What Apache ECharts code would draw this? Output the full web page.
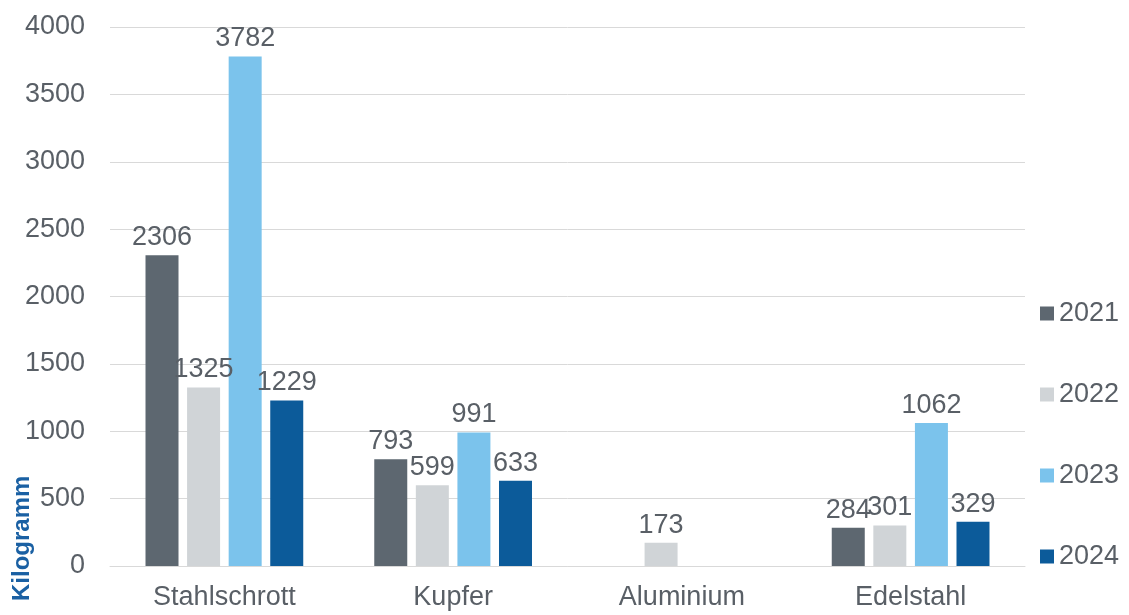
<!DOCTYPE html>
<html>
<head>
<meta charset="utf-8">
<script src="https://cdn.jsdelivr.net/npm/echarts@6/dist/echarts.min.js"></script>
<style>
  html, body { margin: 0; padding: 0; background: #ffffff; }
  #chart { width: 1129px; height: 615px; }
</style>
</head>
<body>
<div id="chart"></div>
<script>
// Metal scrap quantities per material and year (kg)
const categories = ['Stahlschrott', 'Kupfer', 'Aluminium', 'Edelstahl'];
const years = ['2021', '2022', '2023', '2024'];
const values2021 = [2306, 793, null, 284];
const values2022 = [1325, 599, 173, 301];
const values2023 = [3782, 991, null, 1062];
const values2024 = [1229, 633, null, 329];
const yTicks = { min: 0, max: 4000, interval: 500 };

const seriesValues = [values2021, values2022, values2023, values2024];
const colors = ['#5d6770', '#d0d4d7', '#7bc3ec', '#0c5b9a'];
const textColor = '#595f66';
const font = 'Liberation Sans, Arial, sans-serif';

const chart = echarts.init(document.getElementById('chart'));

chart.setOption({
  animation: false,
  textStyle: { fontFamily: font },
  grid: { left: 110, right: 104, top: 27, bottom: 49, containLabel: false },
  legend: {
    orient: 'vertical',
    left: 1040,
    top: 300,
    padding: 0,
    itemWidth: 14,
    itemHeight: 14,
    itemGap: 54,
    icon: 'rect',
    textStyle: { fontSize: 27, color: textColor, fontFamily: font },
    data: years
  },
  xAxis: {
    type: 'category',
    data: categories,
    axisLine: { show: true, lineStyle: { color: '#d9d9d9', width: 1 } },
    axisTick: { show: false },
    axisLabel: { fontSize: 27, color: textColor, margin: 18, fontFamily: font }
  },
  yAxis: {
    type: 'value',
    min: yTicks.min,
    max: yTicks.max,
    interval: yTicks.interval,
    axisLine: { show: false },
    axisTick: { show: false },
    splitLine: { lineStyle: { color: '#d9d9d9', width: 1 } },
    axisLabel: {
      fontSize: 27,
      color: textColor,
      margin: 25,
      fontFamily: font,
      formatter: (v) => String(v)
    }
  },
  // rotated unit caption along the lower left edge
  graphic: [{
    type: 'text',
    x: 22,
    y: 601,
    rotation: Math.PI / 2,
    style: {
      text: 'Kilogramm',
      fontSize: 24,
      fontWeight: 'bold',
      fill: '#1a60a3',
      fontFamily: font,
      align: 'left',
      verticalAlign: 'middle'
    }
  }],
  series: years.map((y, i) => ({
    name: y,
    type: 'bar',
    data: seriesValues[i],
    barWidth: 33,
    barGap: '26%',
    itemStyle: { color: colors[i] },
    label: {
      show: true,
      position: 'top',
      distance: 4,
      fontSize: 27,
      color: textColor,
      fontFamily: font
    }
  }))
});
</script>
</body>
</html>
